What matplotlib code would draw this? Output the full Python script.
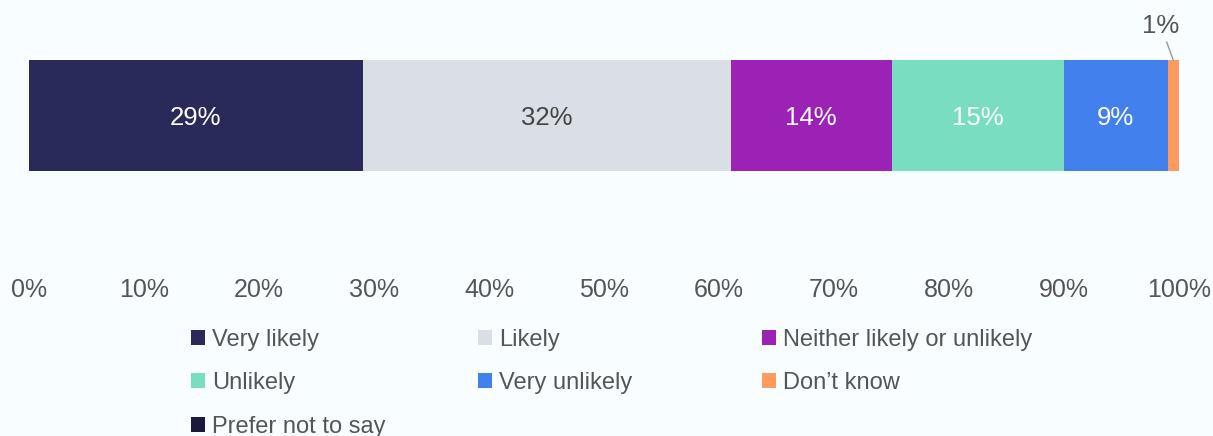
import matplotlib.pyplot as plt
from matplotlib.patches import Patch

categories = ["Very likely", "Likely", "Neither likely or unlikely",
              "Unlikely", "Very unlikely", "Don\u2019t know", "Prefer not to say"]
values = [29, 32, 14, 15, 9, 1, 0]
colors = ["#29295A", "#D9DFE5", "#9B22B4", "#79DEC1", "#4280EE", "#FF9A5E", "#1B1A3A"]
label_colors = ["white", "#444444", "white", "white", "white", None, None]
ticks = list(range(0, 101, 10))
tick_labels = [f"{t}%" for t in ticks]

plt.rcParams['font.family'] = ['Liberation Sans', 'DejaVu Sans']
bg = "#F8FEFF"
text_col = "#555555"

W, H = 1213, 436
fig = plt.figure(figsize=(W / 100, H / 100), dpi=100, facecolor=bg)
# axes covers just the bar; tick labels hang below via a large pad
ax = fig.add_axes([29 / W, 1 - 171 / H, (1179 - 29) / W, (171 - 60) / H], facecolor=bg)

left = 0
for cat, v, c, lc in zip(categories, values, colors, label_colors):
    ax.barh(0, v, left=left, height=1, color=c, edgecolor='none')
    if lc is not None and v > 0:
        ax.text(left + v / 2, -0.02, f"{v}%", ha='center', va='center',
                color=lc, fontsize=18.5)
    left += v

# small slice gets an outside label with a leader line
dk = categories.index("Don\u2019t know")
dk_left = sum(values[:dk])
ax.annotate(f"{values[dk]}%", xy=(dk_left + values[dk] / 2, 0.5),
            xytext=(-9, 16), textcoords='offset points',
            ha='center', va='bottom', fontsize=18.5, color=text_col,
            arrowprops=dict(arrowstyle='-', color='#999999', lw=1,
                            shrinkA=1, shrinkB=0))

ax.set_xlim(0, 100)
ax.set_ylim(-0.5, 0.5)
ax.set_xticks(ticks)
ax.set_xticklabels(tick_labels)
ax.set_yticks([])
ax.tick_params(axis='x', length=0, pad=77, labelsize=18, labelcolor=text_col)
for s in ax.spines.values():
    s.set_visible(False)

# three legend columns laid out row by row
columns = [
    ([0, 3, 6], 191),
    ([1, 4], 478),
    ([2, 5], 762),
]
for idx, xpx in columns:
    handles = [Patch(facecolor=colors[i], edgecolor='none') for i in idx]
    labels = [categories[i] for i in idx]
    fig.legend(handles, labels, loc='upper left',
               bbox_to_anchor=(xpx / W, 1 - 329 / H),
               frameon=False, fontsize=17, labelcolor=text_col,
               handlelength=0.6, handleheight=0.6, handletextpad=0.3,
               labelspacing=0.9, borderpad=0, borderaxespad=0)

fig.savefig("out.png", dpi=100, facecolor=bg)
